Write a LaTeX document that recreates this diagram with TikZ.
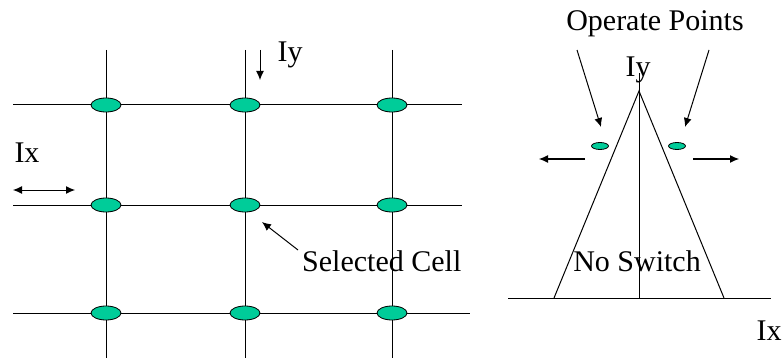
\documentclass[tikz,border=0pt]{standalone}
\usepackage{fontspec}
\setmainfont{Liberation Serif}
\usetikzlibrary{positioning,arrows.meta,shapes.geometric}
\definecolor{cellgreen}{HTML}{00CC99}
\tikzset{
  cell/.style={draw,ellipse,fill=cellgreen,line width=0.8pt,minimum width=30pt,minimum height=14pt,inner sep=0pt},
  opdot/.style={draw,ellipse,fill=cellgreen,line width=0.8pt,minimum width=17pt,minimum height=7pt,inner sep=0pt},
  wire/.style={line width=1pt},
  arr/.style={-{Latex[length=9pt,width=8pt]},line width=1pt},
  lbl/.style={font=\fontsize{30}{36}\selectfont,inner sep=0pt,anchor=base}
}

\begin{document}
\begin{tikzpicture}[x=1pt,y=-1pt]
\useasboundingbox (0,0) rectangle (783,358);

% memory array
\foreach \x in {106,245,392}
  \draw[wire] (\x,50) -- (\x,358);
\draw[wire] (13,105) -- (462,105);
\draw[wire] (13,205) -- (462,205);
\draw[wire] (13,313) -- (470,313);
\foreach \x/\i in {106/1,245/2,392/3}
  \foreach \y/\j in {105/1,205/2,313/3}
    \node[cell] (c\i\j) at (\x,\y) {};

\node[lbl] (iyl) at (290,62) {Iy};
\coordinate (iytop) at (260,50);
\coordinate (iyend) at (260,80);
\draw[arr] (iytop) -- (iyend);

\node[lbl] (ixl) at (27,162) {Ix};
\coordinate (ixa) at (13,190);
\coordinate (ixb) at (75,190);
\draw[{Latex[length=9pt,width=8pt]}-{Latex[length=9pt,width=8pt]},line width=1pt] (ixa) -- (ixb);

\node[lbl,anchor=base west] (sel) at (302,271) {Selected Cell};
\coordinate (seltail) at (298,250);
\coordinate (seltip) at (262,222);
\draw[arr] (seltail) -- (seltip);

% switching curve
\coordinate (apex) at (639,91);
\coordinate (bl) at (554,298);
\coordinate (br) at (724,298);
\coordinate (axl) at (508,298);
\coordinate (axr) at (771,298);
\coordinate (axtop) at (639,73);
\coordinate (axbot) at (639,298);
\draw[wire] (axl) -- (axr);
\draw[wire] (axtop) -- (axbot);
\draw[wire] (bl) -- (apex) -- (br);

\node[lbl] (op) at (655,31) {Operate Points};
\node[lbl] (iyr) at (638,77) {Iy};
\node[lbl] (nosw) at (637,271) {No Switch};
\node[lbl] (ixr) at (769,340) {Ix};

\node[opdot] (opl) at (600,146) {};
\node[opdot] (opr) at (677,146) {};

\coordinate (opla) at (577,50);
\coordinate (oplb) at (601,127);
\coordinate (opra) at (709,50);
\coordinate (oprb) at (685,127);
\draw[arr] (opla) -- (oplb);
\draw[arr] (opra) -- (oprb);

\coordinate (ml) at (585,159);
\coordinate (mle) at (539,159);
\coordinate (mr) at (693,159);
\coordinate (mre) at (739,159);
\draw[arr] (ml) -- (mle);
\draw[arr] (mr) -- (mre);

\end{tikzpicture}
\end{document}
